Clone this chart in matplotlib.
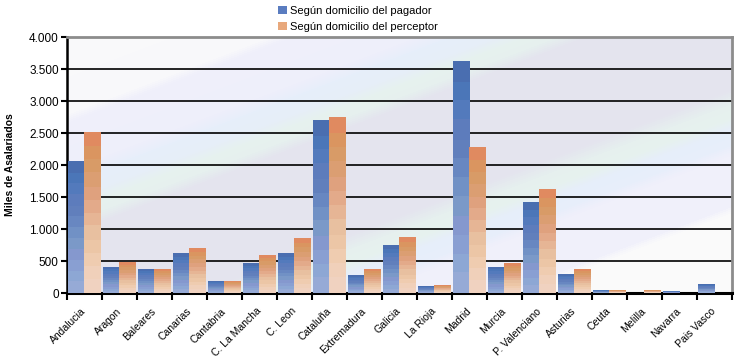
import numpy as np
import matplotlib
matplotlib.use("Agg")
import matplotlib.pyplot as plt
from matplotlib.colors import LinearSegmentedColormap
from matplotlib.patches import Patch
from matplotlib import ticker
from matplotlib.transforms import ScaledTranslation

plt.rcParams['font.family'] = ['Liberation Sans', 'DejaVu Sans']

regions = ['Andalucia', 'Aragon', 'Baleares', 'Canarias', 'Cantabria',
           'C. La Mancha', 'C. Leon', 'Cataluña', 'Extremadura', 'Galicia',
           'La Rioja', 'Madrid', 'Murcia', 'P. Valenciano', 'Asturias',
           'Ceuta', 'Melilla', 'Navarra', 'Pais Vasco']
pagador = [2060, 400, 375, 625, 185, 455, 625, 2690, 280, 750,
           95, 3625, 405, 1420, 295, 35, 0, 30, 140]
perceptor = [2510, 470, 360, 690, 185, 580, 845, 2750, 360, 860,
             110, 2280, 455, 1610, 375, 35, 35, 0, 0]
labels = ['Según domicilio del pagador', 'Según domicilio del perceptor']

# bar gradients, bottom -> top
blue_cmap = LinearSegmentedColormap.from_list(
    'blu', ['#96aad6', '#8aa6d4', '#8898d0', '#7a9ac8', '#6c8cc4', '#6280bc',
            '#5c7cbc', '#4c7abc', '#4a6eb0'], N=12)
orange_cmap = LinearSegmentedColormap.from_list(
    'ora', ['#f0d2c0', '#f0d0b8', '#eec8a8', '#e8c0a0', '#e6b090', '#e0a280',
            '#da9e70', '#d89a60', '#e08a60'], N=12)

# diagonal background bands
bg_cmap = LinearSegmentedColormap.from_list(
    'bg', [(0.0, '#fafafa'), (0.15, '#f8f8fa'), (0.165, '#f0f0fa'), (0.26, '#eeeffa'),
           (0.29, '#e6eefa'), (0.32, '#e6eef8'), (0.345, '#e6f2ee'), (0.365, '#e6f0ee'),
           (0.39, '#e4e4ee'), (0.60, '#e4e4ee'), (0.63, '#e6f0ee'), (0.655, '#e6f2ee'),
           (0.68, '#e6eefa'), (0.71, '#e8eefa'), (0.73, '#f0f0fa'), (0.83, '#f0f0fa'),
           (0.845, '#fafafa'), (1.0, '#fafafa')])

fig = plt.figure(figsize=(7.38, 3.64), dpi=100)
ax = fig.add_axes([67 / 738, 71 / 364, 665 / 738, 256 / 364])

W, H = 665, 256
xx, yy = np.meshgrid(np.arange(W), np.arange(H))
s = (yy + 0.38 * xx) / (H + 0.38 * W)
ax.imshow(s, cmap=bg_cmap, extent=[0, 1, 0, 1], transform=ax.transAxes,
          aspect='auto', zorder=0, interpolation='bilinear')

n = len(regions)
grad = np.linspace(0, 1, 100).reshape(-1, 1)
for i in range(n):
    for val, x0, x1, cm in [(pagador[i], i + 0.02, i + 0.49, blue_cmap),
                            (perceptor[i], i + 0.49, i + 0.96, orange_cmap)]:
        if val <= 0:
            continue
        ax.imshow(grad, cmap=cm, extent=[x0, x1, 0, val], origin='lower',
                  aspect='auto', zorder=3, interpolation='nearest')

ax.set_xlim(0, n)
ax.set_ylim(0, 4000)
ax.yaxis.grid(True, color='black', linewidth=1.2, zorder=1)
ax.set_axisbelow(True)

ax.set_yticks(np.arange(0, 4001, 500))
ax.yaxis.set_major_formatter(ticker.FuncFormatter(
    lambda v, p: f'{int(v):,}'.replace(',', '.')))
ax.set_xticks(np.arange(0, n + 1))
ax.set_xticklabels([])
ax.set_xticks(np.arange(n) + 0.5, minor=True)
ax.set_xticklabels(regions, minor=True, rotation=45, ha='right', va='center',
                   rotation_mode='anchor', fontsize=7.5)
shift = ScaledTranslation(-4 / 100, 0, fig.dpi_scale_trans)
for lab in ax.get_xticklabels(minor=True):
    lab.set_transform(lab.get_transform() + shift)
ax.tick_params(axis='x', which='major', length=5, width=1.5, direction='out')
ax.tick_params(axis='x', which='minor', length=0, pad=12)
ax.tick_params(axis='y', length=4, width=1.5, labelsize=8.5, pad=2)

for side in ['left', 'bottom']:
    ax.spines[side].set_color('black')
ax.spines['left'].set_linewidth(1.8)
ax.spines['bottom'].set_linewidth(2.2)
for side in ['top', 'right']:
    ax.spines[side].set_color('#8c8c8c')
    ax.spines[side].set_linewidth(2)

ax.set_ylabel('Miles de Asalariados', fontsize=7.5, fontweight='bold', labelpad=10)

handles = [Patch(facecolor='#5a7cc0', edgecolor='none'),
           Patch(facecolor='#e8a87c', edgecolor='none')]
fig.legend(handles, labels, loc='upper left', bbox_to_anchor=(268 / 738, 1.012),
           frameon=False, fontsize=8, handlelength=0.8, handleheight=0.8,
           handletextpad=0.3, labelspacing=0.55)

fig.savefig('out.png', dpi=100)
